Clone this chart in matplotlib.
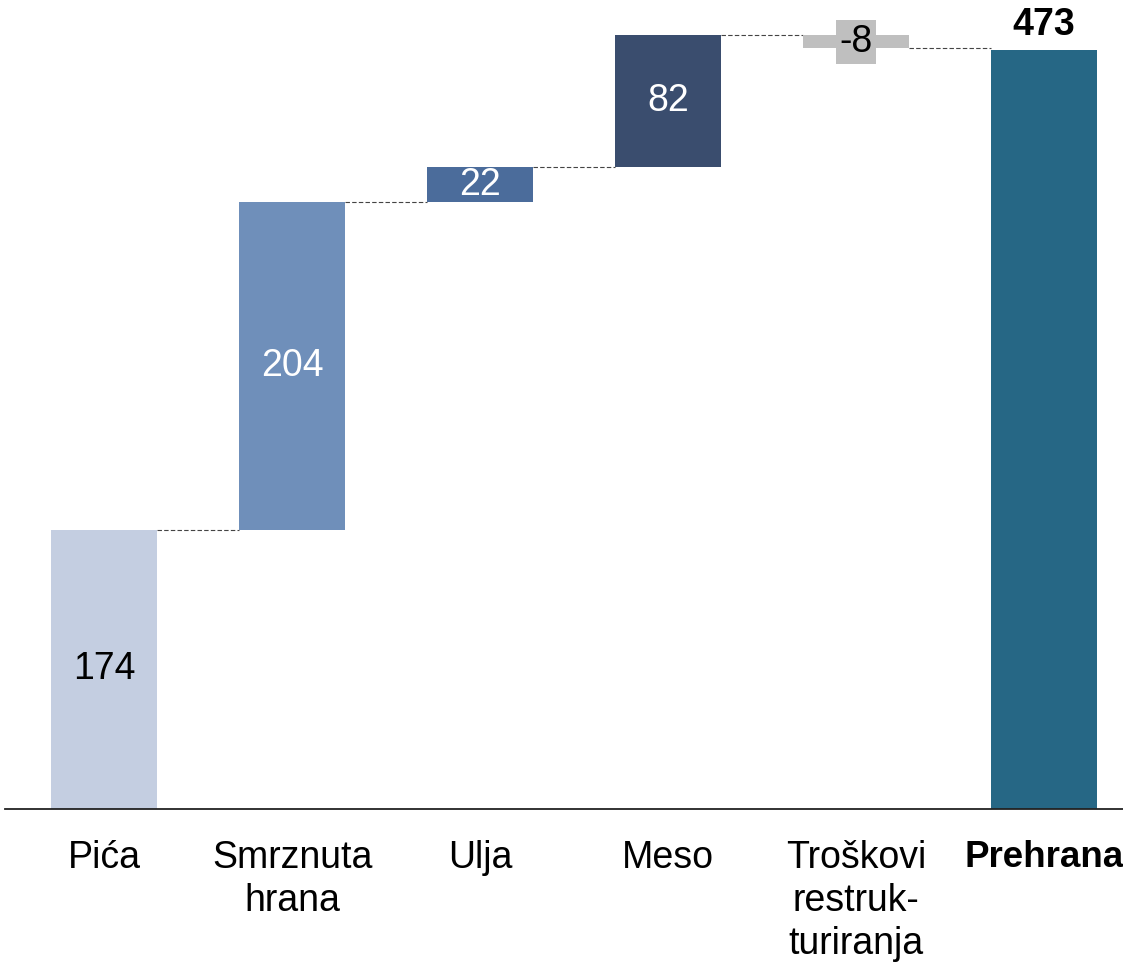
import matplotlib.pyplot as plt

plt.rcParams['font.family'] = ['Liberation Sans', 'DejaVu Sans']

categories = ['Pića', 'Smrznuta\nhrana', 'Ulja', 'Meso', 'Troškovi\nrestruk-\nturiranja', 'Prehrana']
changes = [174, 204, 22, 82, -8]
total = 473
colors = ['#c4cee1', '#6f8fba', '#4b6c9b', '#3a4d6e', '#bfbfbf', '#266785']
label_colors = ['black', 'white', 'white', 'white', 'black']

fig = plt.figure(figsize=(11.23, 9.63), dpi=100)
ax = fig.add_axes([5 / 1123, 154 / 963, 1118 / 1123, 809 / 963])

width = 0.56
x = list(range(len(categories)))

# running sums for the floating bars
starts = []
level = 0
for c in changes:
    starts.append(level)
    level += c

for i, c in enumerate(changes):
    bottom = starts[i] if c >= 0 else starts[i] + c
    ax.bar(x[i], abs(c), bottom=bottom, width=width, color=colors[i], zorder=2)
    ymid = bottom + abs(c) / 2
    if c < 0:
        ax.text(x[i], ymid, str(c), ha='center', va='center', fontsize=27,
                color=label_colors[i], zorder=4,
                bbox=dict(boxstyle='square,pad=0.1', fc=colors[i], ec='none'))
    else:
        ax.text(x[i], ymid, str(c), ha='center', va='center', fontsize=27,
                color=label_colors[i], zorder=4)

ax.bar(x[-1], total, width=width, color=colors[-1], zorder=2)
ax.text(x[-1], total + 4, str(total), ha='center', va='bottom', fontsize=27,
        fontweight='bold', color='black')

# dashed connectors
ends = [s + c for s, c in zip(starts, changes)]
for i in range(len(changes)):
    y = ends[i]
    ax.plot([x[i] + width / 2, x[i + 1] - width / 2], [y, y], color='#444444',
            lw=0.8, linestyle=(0, (4, 2)), zorder=1)

ax.set_xlim(-0.527, 5.42)
ax.set_ylim(0, 809 / 1.605)
ax.set_xticks(x)
ax.set_xticklabels(categories, fontsize=27, linespacing=1.25)
last = ax.get_xticklabels()[-1]
last.set_fontweight('bold')
last.set_fontsize(26.5)
ax.tick_params(axis='x', length=0, pad=22)
ax.set_yticks([])
for s in ['top', 'right', 'left']:
    ax.spines[s].set_visible(False)
ax.spines['bottom'].set_linewidth(1.3)
ax.spines['bottom'].set_color('#222222')

fig.savefig('out.png', dpi=100)
